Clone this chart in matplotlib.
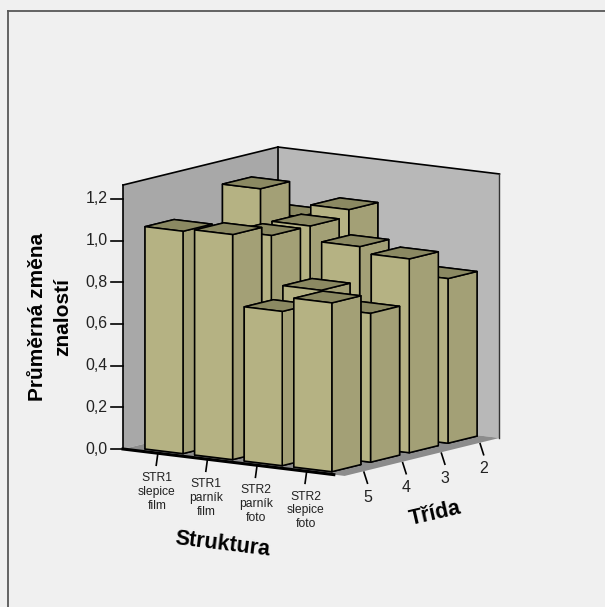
import matplotlib
matplotlib.use("Agg")
import matplotlib.pyplot as plt
from matplotlib.lines import Line2D
from mpl_toolkits.mplot3d import proj3d

plt.rcParams["font.family"] = ["Liberation Sans", "DejaVu Sans"]

struktura = ["STR1\nslepice\nfilm", "STR1\nparník\nfilm", "STR2\nparník\nfoto", "STR2\nslepice\nfoto"]
trida = ["5", "4", "3", "2"]
z_ticks = [0.0, 0.2, 0.4, 0.6, 0.8, 1.0, 1.2]
z_labels = ["0,0", "0,2", "0,4", "0,6", "0,8", "1,0", "1,2"]

# one list per class, values in struktura order (front row first)
trida_5 = [1.067, 1.08, 0.74, 0.81]
trida_4 = [0.95, 1.03, 0.796, 0.714]
trida_3 = [1.18, 1.03, 0.96, 0.93]
trida_2 = [1.00, 1.063, 0.70, 0.79]
rows = [trida_5, trida_4, trida_3, trida_2]

W, H = 605, 607
XMAX, YMAX, ZMAX = 4.467, 4.0, 1.267
BAR_X0, BAR_Y0, BAR_DX, BAR_DY = 0.296, 0.19, 0.765, 0.75

FRONT = "#B5B283"
SIDE = "#A3A076"
TOP = "#8B8962"

fig = plt.figure(figsize=(W / 100, H / 100), dpi=100, facecolor="#F0F0F0")

ax = fig.add_axes([0, 0, 1, 1], projection="3d", computed_zorder=False, proj_type="ortho")
ax.view_init(elev=9.94, azim=-54.85)
ax.set_facecolor("none")

# back to front so the bars overlap like in the original
n = 1
for j in range(len(rows) - 1, -1, -1):
    for i, val in enumerate(rows[j]):
        ax.bar3d(i + BAR_X0, j + BAR_Y0, 0, BAR_DX, BAR_DY, val,
                 color=[TOP, TOP, FRONT, SIDE, SIDE, SIDE],
                 edgecolor="black", linewidth=1.1, shade=False, zorder=n + 10)
        n += 1

ax.set_xlim(0, XMAX, view_margin=0)
ax.set_ylim(0, YMAX, view_margin=0)
ax.set_zlim(0, ZMAX, view_margin=0)
ax.set_xticks([])
ax.set_yticks([])
ax.set_zticks([])
ax.grid(False)

ax.xaxis.set_pane_color("#A8A8A8")
ax.yaxis.set_pane_color("#B8B8B8")
ax.zaxis.set_pane_color("#8C8C8C")
for axis in (ax.xaxis, ax.yaxis, ax.zaxis):
    axis.line.set_color("none")
    axis.pane.set_edgecolor("none")

# wall outline
ax.plot([0, 0], [0, 0], [0, ZMAX], color="black", lw=1.2, zorder=1)
ax.plot([0, 0], [0, YMAX], [ZMAX, ZMAX], color="black", lw=1.2, zorder=1)
ax.plot([0, XMAX], [YMAX, YMAX], [ZMAX, ZMAX], color="black", lw=1.2, zorder=1)
ax.plot([0, 0], [YMAX, YMAX], [0, ZMAX], color="black", lw=1.2, zorder=1)
ax.plot([XMAX, XMAX], [YMAX, YMAX], [0, ZMAX], color="#333333", lw=1.0, zorder=1)
ax.plot([0, 4.25], [0, 0], [0, 0], color="black", lw=2.2, zorder=100)

aspect = (271, 269, 268)
zoom = 1.0
ax.set_box_aspect(aspect, zoom=zoom)


def to_px(x, y, z):
    px, py, _ = proj3d.proj_transform(x, y, z, ax.get_proj())
    dx, dy = ax.transData.transform((px, py))
    return dx, H - dy


# scale and move the box so the left floor corner lands where it should
fig.canvas.draw()
top = to_px(0, 0, ZMAX)
bottom = to_px(0, 0, 0)
zoom *= 264 / (bottom[1] - top[1])
ax.set_box_aspect(aspect, zoom=zoom)
fig.canvas.draw()
corner = to_px(0, 0, 0)
pos = ax.get_position()
ax.set_position([pos.x0 + (123 - corner[0]) / W, pos.y0 - (449 - corner[1]) / H, pos.width, pos.height])
fig.canvas.draw()


def line_px(x0, y0, x1, y1, lw=1.2, color="black"):
    fig.add_artist(Line2D([x0 / W, x1 / W], [1 - y0 / H, 1 - y1 / H], color=color, lw=lw,
                          transform=fig.transFigure))


def text_px(x, y, s, ha="center", **kw):
    fig.text(x / W, 1 - y / H, s, ha=ha, va="center", **kw)


# chart frame, only top and left edges show
line_px(8, H, 8, 11, lw=1.3, color="#585858")
line_px(8, 11, W, 11, lw=1.3, color="#585858")

for val, lab in zip(z_ticks, z_labels):
    x, y = to_px(0, 0, val)
    line_px(x - 12, y, x, y)
    text_px(x - 15.5, y, lab, ha="right", fontsize=11.4, color="#222222")

for i, lab in enumerate(struktura):
    x, y = to_px(i + 0.70, 0, 0)
    line_px(x, y + 1, x - 1.5, y + 12)
    text_px(x - 1, y + 39, lab, fontsize=8.7, color="#222222", linespacing=1.2)

for j, lab in enumerate(trida):
    x, y = to_px(XMAX, j + 0.5, 0)
    line_px(x, y + 1, x + 3.5, y + 12)
    text_px(x + 3.5, y + 26, lab, fontsize=11.5, color="#222222")

text_px(223, 544, "Struktura", fontsize=15.5, fontweight="bold", rotation=-7, color="black")
text_px(435, 514, "Třída", fontsize=15.5, fontweight="bold", rotation=13, color="black")
text_px(50, 317, "Průměrná změna\nznalostí", fontsize=15, fontweight="bold", rotation=90, color="black",
        linespacing=1.4)

fig.savefig("out.png", dpi=100)
